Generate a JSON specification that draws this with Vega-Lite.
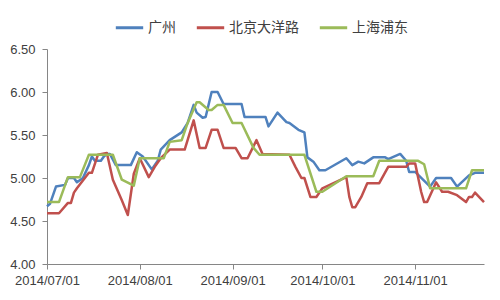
{
  "$schema": "https://vega.github.io/schema/vega-lite/v6.json",
  "width": 437,
  "height": 215,
  "autosize": {"type": "none"},
  "padding": {"left": 47, "top": 49, "right": 16, "bottom": 36},
  "background": "white",
  "config": {
    "view": {"stroke": null},
    "font": "Liberation Sans",
    "axis": {"grid": false, "domainColor": "#868686", "tickColor": "#868686", "labelColor": "#404040", "labelFontSize": 13, "labelFont": "Liberation Sans", "tickSize": 5, "domainWidth": 1, "tickWidth": 1}
  },
  "data": {"values": [
    {"d":"2014-07-01","s":"广州","v":4.67},
    {"d":"2014-07-02","s":"广州","v":4.70},
    {"d":"2014-07-04","s":"广州","v":4.90},
    {"d":"2014-07-07","s":"广州","v":4.92},
    {"d":"2014-07-08","s":"广州","v":5.00},
    {"d":"2014-07-10","s":"广州","v":5.00},
    {"d":"2014-07-11","s":"广州","v":4.95},
    {"d":"2014-07-13","s":"广州","v":5.00},
    {"d":"2014-07-15","s":"广州","v":5.15},
    {"d":"2014-07-16","s":"广州","v":5.25},
    {"d":"2014-07-17","s":"广州","v":5.20},
    {"d":"2014-07-19","s":"广州","v":5.20},
    {"d":"2014-07-20","s":"广州","v":5.25},
    {"d":"2014-07-21","s":"广州","v":5.28},
    {"d":"2014-07-22","s":"广州","v":5.28},
    {"d":"2014-07-24","s":"广州","v":5.15},
    {"d":"2014-07-29","s":"广州","v":5.15},
    {"d":"2014-07-31","s":"广州","v":5.30},
    {"d":"2014-08-02","s":"广州","v":5.25},
    {"d":"2014-08-05","s":"广州","v":5.10},
    {"d":"2014-08-07","s":"广州","v":5.20},
    {"d":"2014-08-08","s":"广州","v":5.33},
    {"d":"2014-08-11","s":"广州","v":5.44},
    {"d":"2014-08-15","s":"广州","v":5.53},
    {"d":"2014-08-17","s":"广州","v":5.64},
    {"d":"2014-08-19","s":"广州","v":5.85},
    {"d":"2014-08-20","s":"广州","v":5.76},
    {"d":"2014-08-22","s":"广州","v":5.70},
    {"d":"2014-08-23","s":"广州","v":5.71},
    {"d":"2014-08-25","s":"广州","v":6.00},
    {"d":"2014-08-27","s":"广州","v":6.00},
    {"d":"2014-08-29","s":"广州","v":5.86},
    {"d":"2014-09-04","s":"广州","v":5.86},
    {"d":"2014-09-05","s":"广州","v":5.71},
    {"d":"2014-09-12","s":"广州","v":5.71},
    {"d":"2014-09-13","s":"广州","v":5.60},
    {"d":"2014-09-16","s":"广州","v":5.76},
    {"d":"2014-09-19","s":"广州","v":5.65},
    {"d":"2014-09-20","s":"广州","v":5.64},
    {"d":"2014-09-23","s":"广州","v":5.56},
    {"d":"2014-09-25","s":"广州","v":5.53},
    {"d":"2014-09-26","s":"广州","v":5.24},
    {"d":"2014-09-28","s":"广州","v":5.19},
    {"d":"2014-09-30","s":"广州","v":5.09},
    {"d":"2014-10-02","s":"广州","v":5.09},
    {"d":"2014-10-09","s":"广州","v":5.23},
    {"d":"2014-10-11","s":"广州","v":5.15},
    {"d":"2014-10-13","s":"广州","v":5.19},
    {"d":"2014-10-15","s":"广州","v":5.17},
    {"d":"2014-10-18","s":"广州","v":5.24},
    {"d":"2014-10-22","s":"广州","v":5.24},
    {"d":"2014-10-23","s":"广州","v":5.22},
    {"d":"2014-10-27","s":"广州","v":5.28},
    {"d":"2014-10-29","s":"广州","v":5.20},
    {"d":"2014-10-30","s":"广州","v":5.07},
    {"d":"2014-11-01","s":"广州","v":5.07},
    {"d":"2014-11-06","s":"广州","v":4.90},
    {"d":"2014-11-08","s":"广州","v":5.00},
    {"d":"2014-11-13","s":"广州","v":5.00},
    {"d":"2014-11-15","s":"广州","v":4.90},
    {"d":"2014-11-19","s":"广州","v":5.03},
    {"d":"2014-11-21","s":"广州","v":5.06},
    {"d":"2014-11-24","s":"广州","v":5.06},

    {"d":"2014-07-01","s":"北京大洋路","v":4.59},
    {"d":"2014-07-05","s":"北京大洋路","v":4.59},
    {"d":"2014-07-08","s":"北京大洋路","v":4.71},
    {"d":"2014-07-09","s":"北京大洋路","v":4.71},
    {"d":"2014-07-10","s":"北京大洋路","v":4.83},
    {"d":"2014-07-11","s":"北京大洋路","v":4.88},
    {"d":"2014-07-15","s":"北京大洋路","v":5.06},
    {"d":"2014-07-16","s":"北京大洋路","v":5.06},
    {"d":"2014-07-18","s":"北京大洋路","v":5.27},
    {"d":"2014-07-21","s":"北京大洋路","v":5.29},
    {"d":"2014-07-23","s":"北京大洋路","v":4.98},
    {"d":"2014-07-26","s":"北京大洋路","v":4.74},
    {"d":"2014-07-28","s":"北京大洋路","v":4.57},
    {"d":"2014-07-30","s":"北京大洋路","v":5.05},
    {"d":"2014-08-01","s":"北京大洋路","v":5.23},
    {"d":"2014-08-04","s":"北京大洋路","v":5.01},
    {"d":"2014-08-06","s":"北京大洋路","v":5.13},
    {"d":"2014-08-08","s":"北京大洋路","v":5.23},
    {"d":"2014-08-11","s":"北京大洋路","v":5.33},
    {"d":"2014-08-16","s":"北京大洋路","v":5.33},
    {"d":"2014-08-19","s":"北京大洋路","v":5.67},
    {"d":"2014-08-21","s":"北京大洋路","v":5.35},
    {"d":"2014-08-23","s":"北京大洋路","v":5.35},
    {"d":"2014-08-25","s":"北京大洋路","v":5.56},
    {"d":"2014-08-27","s":"北京大洋路","v":5.56},
    {"d":"2014-08-29","s":"北京大洋路","v":5.35},
    {"d":"2014-09-02","s":"北京大洋路","v":5.35},
    {"d":"2014-09-04","s":"北京大洋路","v":5.23},
    {"d":"2014-09-06","s":"北京大洋路","v":5.23},
    {"d":"2014-09-09","s":"北京大洋路","v":5.44},
    {"d":"2014-09-11","s":"北京大洋路","v":5.28},
    {"d":"2014-09-20","s":"北京大洋路","v":5.27},
    {"d":"2014-09-22","s":"北京大洋路","v":5.13},
    {"d":"2014-09-24","s":"北京大洋路","v":5.00},
    {"d":"2014-09-25","s":"北京大洋路","v":5.00},
    {"d":"2014-09-27","s":"北京大洋路","v":4.78},
    {"d":"2014-09-29","s":"北京大洋路","v":4.78},
    {"d":"2014-10-01","s":"北京大洋路","v":4.88},
    {"d":"2014-10-09","s":"北京大洋路","v":5.01},
    {"d":"2014-10-10","s":"北京大洋路","v":4.78},
    {"d":"2014-10-11","s":"北京大洋路","v":4.66},
    {"d":"2014-10-12","s":"北京大洋路","v":4.66},
    {"d":"2014-10-14","s":"北京大洋路","v":4.78},
    {"d":"2014-10-16","s":"北京大洋路","v":4.94},
    {"d":"2014-10-20","s":"北京大洋路","v":4.94},
    {"d":"2014-10-23","s":"北京大洋路","v":5.13},
    {"d":"2014-10-29","s":"北京大洋路","v":5.13},
    {"d":"2014-10-30","s":"北京大洋路","v":5.17},
    {"d":"2014-11-01","s":"北京大洋路","v":5.17},
    {"d":"2014-11-03","s":"北京大洋路","v":4.84},
    {"d":"2014-11-04","s":"北京大洋路","v":4.72},
    {"d":"2014-11-05","s":"北京大洋路","v":4.72},
    {"d":"2014-11-08","s":"北京大洋路","v":4.95},
    {"d":"2014-11-10","s":"北京大洋路","v":4.84},
    {"d":"2014-11-12","s":"北京大洋路","v":4.84},
    {"d":"2014-11-15","s":"北京大洋路","v":4.80},
    {"d":"2014-11-18","s":"北京大洋路","v":4.72},
    {"d":"2014-11-19","s":"北京大洋路","v":4.78},
    {"d":"2014-11-20","s":"北京大洋路","v":4.78},
    {"d":"2014-11-21","s":"北京大洋路","v":4.83},
    {"d":"2014-11-24","s":"北京大洋路","v":4.72},

    {"d":"2014-07-01","s":"上海浦东","v":4.72},
    {"d":"2014-07-05","s":"上海浦东","v":4.72},
    {"d":"2014-07-08","s":"上海浦东","v":5.01},
    {"d":"2014-07-12","s":"上海浦东","v":5.01},
    {"d":"2014-07-15","s":"上海浦东","v":5.27},
    {"d":"2014-07-23","s":"上海浦东","v":5.27},
    {"d":"2014-07-26","s":"上海浦东","v":4.98},
    {"d":"2014-07-30","s":"上海浦东","v":4.91},
    {"d":"2014-08-01","s":"上海浦东","v":5.23},
    {"d":"2014-08-09","s":"上海浦东","v":5.23},
    {"d":"2014-08-11","s":"上海浦东","v":5.42},
    {"d":"2014-08-15","s":"上海浦东","v":5.44},
    {"d":"2014-08-17","s":"上海浦东","v":5.64},
    {"d":"2014-08-20","s":"上海浦东","v":5.88},
    {"d":"2014-08-21","s":"上海浦东","v":5.88},
    {"d":"2014-08-24","s":"上海浦东","v":5.79},
    {"d":"2014-08-25","s":"上海浦东","v":5.79},
    {"d":"2014-08-27","s":"上海浦东","v":5.85},
    {"d":"2014-08-29","s":"上海浦东","v":5.85},
    {"d":"2014-09-01","s":"上海浦东","v":5.64},
    {"d":"2014-09-04","s":"上海浦东","v":5.64},
    {"d":"2014-09-08","s":"上海浦东","v":5.35},
    {"d":"2014-09-10","s":"上海浦东","v":5.27},
    {"d":"2014-09-25","s":"上海浦东","v":5.27},
    {"d":"2014-09-29","s":"上海浦东","v":4.84},
    {"d":"2014-10-01","s":"上海浦东","v":4.84},
    {"d":"2014-10-09","s":"上海浦东","v":5.02},
    {"d":"2014-10-18","s":"上海浦东","v":5.02},
    {"d":"2014-10-20","s":"上海浦东","v":5.20},
    {"d":"2014-11-02","s":"上海浦东","v":5.20},
    {"d":"2014-11-04","s":"上海浦东","v":5.16},
    {"d":"2014-11-06","s":"上海浦东","v":4.88},
    {"d":"2014-11-18","s":"上海浦东","v":4.88},
    {"d":"2014-11-20","s":"上海浦东","v":5.09},
    {"d":"2014-11-24","s":"上海浦东","v":5.09}
  ]},
  "mark": {"type": "line", "strokeWidth": 2.5, "strokeJoin": "round"},
  "encoding": {
    "x": {
      "field": "d", "type": "temporal", "timeUnit": "utcyearmonthdate", "title": null,
      "scale": {"domain": [{"year": 2014, "month": 7, "date": 1, "utc": true}, {"year": 2014, "month": 11, "date": 24, "utc": true}]},
      "axis": {"format": "%Y/%m/%d", "tickCount": {"interval": "month", "step": 1}, "labelPadding": 5, "labelFlush": false, "labelOverlap": false}
    },
    "y": {
      "field": "v", "type": "quantitative", "title": null,
      "scale": {"domain": [4, 6.5], "nice": false, "zero": false},
      "axis": {"values": [4, 4.5, 5, 5.5, 6, 6.5], "format": ".2f", "labelPadding": 7}
    },
    "color": {
      "field": "s", "type": "nominal", "title": null,
      "scale": {"domain": ["广州", "北京大洋路", "上海浦东"], "range": ["#4F81BD", "#C0504D", "#9BBB59"]},
      "legend": {"orient": "none", "legendX": 67, "legendY": -37, "direction": "horizontal", "symbolType": "stroke", "symbolSize": 750, "symbolStrokeWidth": 3, "labelFont": "Noto Sans CJK SC", "labelFontSize": 14, "labelColor": "#404040", "columnPadding": 14, "labelOffset": 3, "padding": 0}
    }
  }
}
